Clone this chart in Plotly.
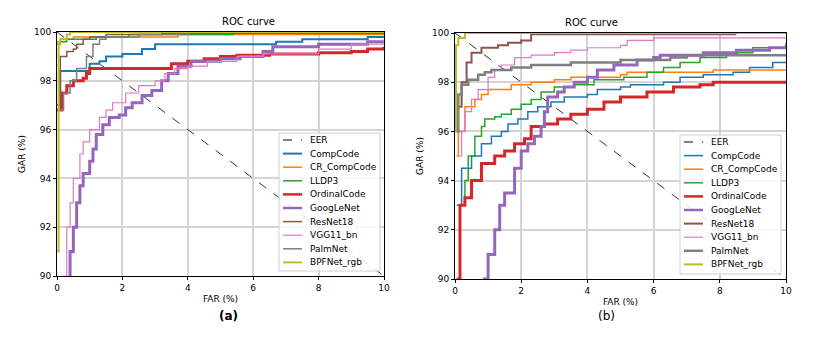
import plotly.graph_objects as go

names = ['CompCode', 'CR_CompCode', 'LLDP3', 'OrdinalCode', 'GoogLeNet',
         'ResNet18', 'VGG11_bn', 'PalmNet', 'BPFNet_rgb']
colors = ['#1f77b4', '#ff7f0e', '#2ca02c', '#d62728', '#9467bd',
          '#8c564b', '#e377c2', '#7f7f7f', '#bcbd22']
widths_a = [2, 1.5, 1.5, 3, 3, 1.5, 1.2, 1.5, 2]
widths_b = [1.5, 1.5, 1.5, 3, 3, 2, 1.2, 2.5, 2]

eer_far = [0, 10]
eer_gar = [100, 90]

# panel (a)
a_far = {
    'CompCode': [0, 0.1, 0.8, 1.0, 1.3, 1.5, 2.0, 2.6, 3.0, 6.5, 6.7, 7.5, 9.5, 10],
    'CR_CompCode': [0, 0.1, 0.5, 3.7, 10],
    'LLDP3': [0, 0.1, 0.3, 1.2, 2.2, 5.4, 10],
    'OrdinalCode': [0, 0.15, 0.3, 0.5, 0.8, 0.9, 1.0, 3.4, 3.5, 4.0, 4.5, 5.0, 5.5, 6.5, 8.0, 9.0, 9.5, 10],
    'GoogLeNet': [0.35, 0.4, 0.5, 0.6, 0.7, 0.8, 1.0, 1.1, 1.2, 1.4, 1.6, 1.9, 2.1, 2.3, 2.6, 2.9, 3.2, 3.4, 3.7, 4.1, 5.0, 5.6, 6.3, 6.6, 8.0, 9.5, 10],
    'ResNet18': [0, 0.1, 0.3, 0.5, 0.6, 0.8, 1.0, 1.5, 3.2, 10],
    'VGG11_bn': [0.2, 0.3, 0.4, 0.5, 0.7, 0.8, 1.0, 1.3, 1.5, 1.7, 2.1, 2.5, 3.0, 3.3, 3.6, 4.0, 4.6, 5.5, 6.3, 8.0, 9.0, 10],
    'PalmNet': [0.05, 0.2, 0.4, 0.6, 0.9, 1.1, 1.3, 1.5, 2.5, 4.0, 10],
    'BPFNet_rgb': [0, 0.05, 0.1, 0.3, 0.4, 10],
}
a_gar = {
    'CompCode': [97.0, 98.4, 98.4, 98.7, 98.8, 99.0, 99.1, 99.3, 99.5, 99.5, 99.6, 99.7, 99.8, 99.8],
    'CR_CompCode': [99.6, 99.7, 99.8, 99.9, 99.9],
    'LLDP3': [99.5, 99.6, 99.7, 99.8, 99.9, 99.95, 99.95],
    'OrdinalCode': [96.8, 97.5, 97.8, 98.0, 98.1, 98.3, 98.5, 98.5, 98.7, 98.8, 98.9, 99.0, 99.05, 99.1, 99.15, 99.2, 99.3, 99.4],
    'GoogLeNet': [90.0, 91.0, 92.0, 93.0, 93.7, 94.2, 94.7, 95.2, 95.8, 96.2, 96.5, 96.6, 96.9, 97.1, 97.4, 97.6, 98.0, 98.3, 98.6, 98.8, 98.9, 99.0, 99.2, 99.4, 99.5, 99.6, 99.6],
    'ResNet18': [96.8, 99.0, 99.2, 99.3, 99.5, 99.7, 99.8, 99.9, 99.95, 99.95],
    'VGG11_bn': [90.0, 92.0, 93.0, 94.0, 95.0, 95.5, 96.0, 96.5, 96.8, 97.1, 97.5, 97.8, 98.0, 98.3, 98.5, 98.6, 98.8, 99.0, 99.1, 99.3, 99.5, 99.7],
    'PalmNet': [96.8, 97.5, 98.0, 98.5, 99.0, 99.5, 99.7, 99.8, 99.9, 100.0, 100.0],
    'BPFNet_rgb': [91.0, 99.5, 99.7, 99.9, 100.0, 100.0],
}

# panel (b)
b_far = {
    'CompCode': [0.05, 0.2, 0.5, 0.8, 1.1, 1.4, 1.6, 1.9, 2.2, 2.5, 2.9, 3.3, 4.0, 4.3, 5.0, 5.3, 6.3, 6.8, 7.5, 8.4, 8.9, 9.6, 10],
    'CR_CompCode': [0.05, 0.1, 0.3, 0.6, 0.8, 1.0, 1.7, 2.3, 3.0, 3.5, 5.0, 5.2, 7.8, 10],
    'LLDP3': [0.1, 0.3, 0.4, 0.6, 0.8, 0.9, 1.2, 1.4, 1.7, 2.0, 2.3, 2.6, 3.0, 3.6, 4.2, 5.1, 5.8, 6.3, 6.8, 7.4, 8.2, 9.0, 10],
    'OrdinalCode': [0.05, 0.15, 0.3, 0.5, 0.8, 1.2, 1.5, 1.8, 2.1, 2.3, 2.7, 3.1, 3.5, 4.0, 4.5, 5.0, 5.8, 6.6, 7.4, 7.8, 10],
    'GoogLeNet': [0.85, 1.0, 1.2, 1.35, 1.5, 1.8, 2.0, 2.2, 2.4, 2.6, 2.7, 2.8, 3.1, 3.3, 3.6, 4.0, 4.3, 4.8, 5.5, 6.0, 6.2, 7.5, 8.5, 9.5, 10],
    'ResNet18': [0.05, 0.2, 0.35, 0.5, 0.8, 1.3, 1.6, 2.0, 2.3, 8.5],
    'VGG11_bn': [0.1, 0.2, 0.3, 0.5, 0.7, 1.0, 1.2, 1.4, 1.8, 2.3, 3.0, 3.5, 4.0, 5.0, 5.2, 6.0, 10],
    'PalmNet': [0.05, 0.1, 0.2, 0.4, 0.7, 0.9, 1.1, 1.7, 2.3, 3.5, 5.0, 6.5, 7.0, 10],
    'BPFNet_rgb': [0, 0.03, 0.1, 0.3, 10],
}
b_gar = {
    'CompCode': [93.0, 94.5, 95.0, 95.5, 95.8, 96.0, 96.3, 96.5, 96.8, 97.0, 97.2, 97.4, 97.5, 97.7, 97.8, 97.9, 98.0, 98.2, 98.3, 98.4, 98.6, 98.8, 98.8],
    'CR_CompCode': [95.0, 96.0, 97.0, 97.3, 97.5, 97.7, 97.9, 98.0, 98.1, 98.2, 98.3, 98.4, 98.5, 98.5],
    'LLDP3': [93.0, 94.0, 95.0, 95.8, 96.2, 96.5, 96.6, 96.7, 96.9, 97.1, 97.3, 97.6, 97.8, 97.9, 98.1, 98.2, 98.4, 98.6, 98.8, 99.0, 99.2, 99.4, 99.6],
    'OrdinalCode': [90.0, 93.0, 93.3, 94.0, 94.7, 95.0, 95.2, 95.5, 95.7, 96.2, 96.3, 96.5, 96.7, 96.9, 97.2, 97.4, 97.6, 97.8, 97.9, 98.0, 98.0],
    'GoogLeNet': [90.0, 91.0, 92.0, 93.0, 93.5, 94.5, 95.2, 95.5, 95.8, 96.2, 96.8, 97.4, 97.6, 97.8, 98.0, 98.2, 98.5, 98.7, 98.9, 99.0, 99.1, 99.2, 99.3, 99.4, 99.5],
    'ResNet18': [97.0, 98.0, 98.8, 99.2, 99.4, 99.5, 99.6, 99.7, 99.95, 99.95],
    'VGG11_bn': [95.0, 96.0, 96.8, 97.3, 97.7, 98.2, 98.5, 98.7, 99.0, 99.1, 99.2, 99.3, 99.4, 99.5, 99.7, 99.8, 99.8],
    'PalmNet': [96.0, 97.5, 97.9, 98.1, 98.3, 98.4, 98.5, 98.6, 98.7, 98.8, 98.9, 99.0, 99.1, 99.1],
    'BPFNet_rgb': [96.0, 99.5, 99.8, 100.0, 100.0],
}

W, H = 830, 341
OFF = 8  # the page body adds an 8px margin, so shift everything back
fig = go.Figure()
shapes = []
annotations = []


def px_x(v):
    return (v - OFF) / W


def px_y(v):
    return 1 - (v - OFF) / H


def add_panel(far, gar, widths, xa, ya, box):
    fig.add_trace(go.Scatter(x=eer_far, y=eer_gar, mode='lines', name='EER',
                             line=dict(color='black', dash='dash', width=0.8),
                             xaxis=xa, yaxis=ya, showlegend=False))
    for n, c, w in zip(names, colors, widths):
        fig.add_trace(go.Scatter(x=far[n], y=gar[n], mode='lines', name=n,
                                 line=dict(color=c, width=w, shape='hv'),
                                 xaxis=xa, yaxis=ya, showlegend=False))

    # hand-drawn legend box (plotly's legend rows are too tall for this chart)
    x0, y0, x1, y1 = box
    shapes.append(dict(type='rect', xref='paper', yref='paper',
                       x0=px_x(x0), x1=px_x(x1), y0=px_y(y0), y1=px_y(y1),
                       fillcolor='rgba(255,255,255,0.85)', line=dict(color='#d0d0d0', width=1),
                       layer='above'))
    labels = ['EER'] + names
    lcolors = ['black'] + colors
    lwidths = [1] + [min(w, 2.5) for w in widths]
    for i, (lab, c, w) in enumerate(zip(labels, lcolors, lwidths)):
        yy = y0 + 7 + i * 13.6
        shapes.append(dict(type='line', xref='paper', yref='paper',
                           x0=px_x(x0 + 4), x1=px_x(x0 + 23), y0=px_y(yy), y1=px_y(yy),
                           line=dict(color=c, width=w, dash='dash' if i == 0 else 'solid'),
                           layer='above'))
        annotations.append(dict(text=lab, x=px_x(x0 + 29), y=px_y(yy), xref='paper', yref='paper',
                                xanchor='left', yanchor='middle', showarrow=False,
                                font=dict(size=9)))


add_panel(a_far, a_gar, widths_a, 'x', 'y', (279, 133, 380, 271))
add_panel(b_far, b_gar, widths_b, 'x2', 'y2', (680, 135, 781, 274))

annotations += [
    dict(text='ROC curve', x=px_x(220), y=px_y(22), xref='paper', yref='paper',
         yanchor='middle', showarrow=False, font=dict(size=10)),
    dict(text='ROC curve', x=px_x(620), y=px_y(23), xref='paper', yref='paper',
         yanchor='middle', showarrow=False, font=dict(size=10)),
    dict(text='<b>(a)</b>', x=px_x(217), y=px_y(316), xref='paper', yref='paper',
         yanchor='middle', showarrow=False, font=dict(size=12)),
    dict(text='(b)', x=px_x(617), y=px_y(316), xref='paper', yref='paper',
         yanchor='middle', showarrow=False, font=dict(size=12)),
]

ax_style = dict(showline=True, mirror=True, linecolor='black', linewidth=1,
                showgrid=True, gridcolor='#d4d4d4', gridwidth=1.5, automargin=False,
                ticks='outside', ticklen=3, tickcolor='black', zeroline=False,
                tickfont=dict(size=9, color='black'))
fig.update_layout(
    width=W, height=H, margin=dict(l=0, r=0, t=0, b=0, autoexpand=False),
    plot_bgcolor='white', paper_bgcolor='white', showlegend=False,
    font=dict(family='DejaVu Sans', size=9, color='black'),
    xaxis=dict(domain=[px_x(57), px_x(384)], range=[0, 10], dtick=2,
               title=dict(text='FAR (%)', font=dict(size=9), standoff=3), anchor='y', **ax_style),
    yaxis=dict(domain=[px_y(276), px_y(32)], range=[90, 100], dtick=2,
               title=dict(text='GAR (%)', font=dict(size=9), standoff=6), anchor='x', **ax_style),
    xaxis2=dict(domain=[px_x(455), px_x(786)], range=[0, 10], dtick=2,
                title=dict(text='FAR (%)', font=dict(size=9), standoff=3), anchor='y2', **ax_style),
    yaxis2=dict(domain=[px_y(279), px_y(33)], range=[90, 100], dtick=2,
                title=dict(text='GAR (%)', font=dict(size=9), standoff=6), anchor='x2', **ax_style),
    shapes=shapes,
    annotations=annotations,
)

fig.write_html('out.html')
